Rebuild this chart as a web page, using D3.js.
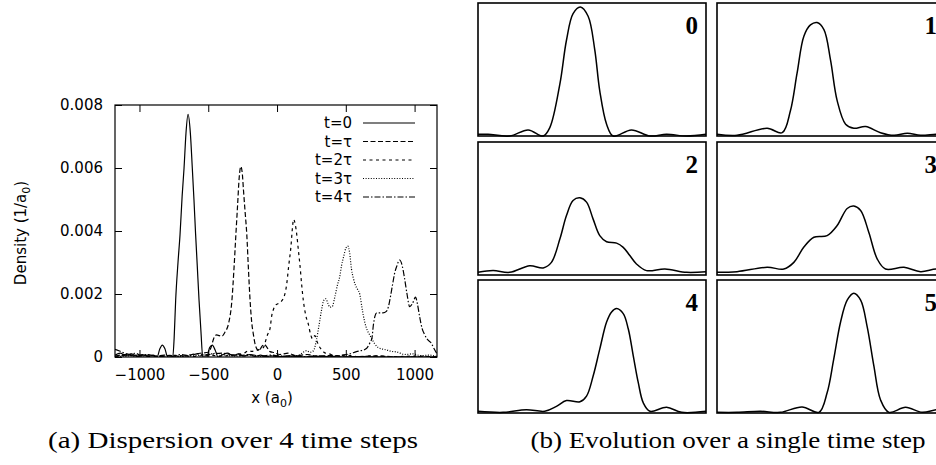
<!DOCTYPE html>
<html><head><meta charset="utf-8">
<title>Wave packet dispersion</title>
<script src="https://cdn.jsdelivr.net/npm/d3@7"></script>
<style>
body { margin: 0; background: #fff; }
.axis text { font-family: "DejaVu Sans", sans-serif; font-size: 15px; fill: #000; }
.axis line { stroke: #000; }
.lbl { font-family: "DejaVu Sans", sans-serif; font-size: 15px; fill: #000; }
.cap { font-family: "Liberation Serif", serif; font-size: 23px; fill: #000; }
.num { font-family: "Liberation Serif", serif; font-size: 25px; font-weight: bold; fill: #000; }
</style>
</head>
<body>
<script>

// left plot: density at t = 0 .. 4 tau, [x (a0), density]
var xTicks = [-1000, -500, 0, 500, 1000];
var yTicks = [0, 0.002, 0.004, 0.006, 0.008];
var legendLabels = ["t=0", "t=\u03c4", "t=2\u03c4", "t=3\u03c4", "t=4\u03c4"];

var t0 = [[-1178,0.00006],[-1140,0.00012],[-1100,0.00004],[-1060,0.0001],[-1020,0.00002],[-980,0.00008],
  [-940,0.00002],[-900,0.00006],[-872,0],[-852,0.00026],[-834,0.00038],[-815,0.00026],[-795,0],[-758,0],
  [-748,0.0006],[-737,0.0018],[-720,0.003],[-705,0.0039],[-690,0.0051],[-676,0.006],[-662,0.0071],[-647,0.0077],
  [-630,0.0071],[-616,0.006],[-604,0.005],[-592,0.0039],[-580,0.0029],[-567,0.0018],[-553,0.0008],[-540,0],
  [-510,0],[-490,0.0003],[-470,0.00038],[-450,0.00022],[-428,0],[-400,0.00006],[-360,0.00012],[-320,0.00004],
  [-280,0.0001],[-240,0.00003],[-200,0.00008],[-160,0.00002],[-120,0.00006],[-80,0.00001],[-40,0.00004],
  [0,0.00001],[100,0.00003],[200,0],[300,0.00002],[400,0],[600,0.00001],[800,0],[1163,0]];

var t1 = [[-1178,0.00003],[-1100,0.00008],[-1020,0.00002],[-940,0.00006],[-860,0.00001],[-780,0.00005],
  [-700,0.00002],[-620,0.00008],[-560,0.00012],[-500,0.00015],[-480,0.0003],[-461,0.00058],[-440,0.0007],
  [-420,0.00068],[-401,0.00066],[-377,0.0008],[-353,0.00105],[-328,0.0018],[-313,0.0028],[-299,0.0039],
  [-287,0.0048],[-275,0.0057],[-263,0.00605],[-252,0.0058],[-244,0.0053],[-232,0.0046],[-220,0.0039],
  [-208,0.0028],[-196,0.0018],[-184,0.0011],[-172,0.00072],[-160,0.00042],[-147,0.00026],[-130,0.0002],
  [-110,0.00034],[-92,0.0004],[-72,0.0003],[-51,0.00017],[-20,0.00014],[20,0.00008],[80,0.00012],
  [140,0.00004],[220,0.00008],[300,0.00002],[400,0.00005],[500,0],[700,0.00003],[900,0],[1163,0.00001]];

var t2 = [[-1178,0.00002],[-1050,0.00006],[-900,0.00002],[-750,0.00005],[-600,0.00002],[-500,0.00006],
  [-400,0.00003],[-300,0.00008],[-240,0.00012],[-208,0.0002],[-183,0.00018],[-160,0.0002],[-123,0.00025],
  [-99,0.0003],[-87,0.00045],[-70,0.0007],[-51,0.0009],[-39,0.0013],[-27,0.0015],[-10,0.00165],[10,0.0017],
  [34,0.00178],[50,0.0019],[70,0.0023],[85,0.0029],[101,0.0035],[112,0.0041],[120,0.00437],[133,0.0042],
  [143,0.0039],[155,0.0034],[167,0.0029],[179,0.0023],[191,0.0018],[210,0.0013],[227,0.00105],[245,0.0007],
  [258,0.00058],[275,0.00068],[290,0.0005],[312,0.0003],[330,0.0002],[348,0.00013],[380,0.0001],
  [420,0.00004],[500,0.00006],[600,0.00001],[700,0.00004],[850,0.00001],[1000,0.00003],[1163,0]];

var t3 = [[-1178,0.00001],[-1000,0.00004],[-800,0.00001],[-600,0.00004],[-500,0.00008],[-440,0.00012],
  [-380,0.00006],[-300,0.00003],[-200,0.00005],[-100,0.00001],[0,0.00004],[80,0.00002],[155,0.00005],
  [190,0.00015],[215,0.0002],[240,0.00015],[265,0.0002],[287,0.00055],[305,0.001],[324,0.0015],[340,0.0018],
  [355,0.00185],[370,0.0017],[384,0.00158],[401,0.0016],[420,0.0019],[440,0.0023],[456,0.00255],[469,0.0029],
  [485,0.0032],[500,0.00345],[515,0.00352],[528,0.0033],[541,0.0028],[555,0.0025],[568,0.0023],[585,0.00215],
  [601,0.002],[620,0.0015],[638,0.0011],[656,0.00085],[674,0.0007],[692,0.00055],[710,0.00042],[735,0.0003],
  [760,0.00026],[800,0.00022],[830,0.00018],[870,0.00016],[930,0.00008],[986,0.0001],[1050,0.00004],
  [1100,0.00006],[1163,0.00002]];

var t4 = [[-1178,0.00024],[-1150,0.0002],[-1110,0.00012],[-1070,0.00008],[-1030,0.00012],[-990,0.00005],
  [-940,0.00008],[-880,0.00003],[-820,0.00006],[-760,0.00002],[-700,0.00008],[-640,0.00004],[-580,0.0001],
  [-520,0.00006],[-460,0.0001],[-400,0.00012],[-340,0.00008],[-280,0.00004],[-200,0.00008],[-120,0.00003],
  [-40,0.00006],[40,0.00002],[120,0.00005],[200,0.00001],[300,0.00004],[400,0.00002],[480,0.00006],
  [530,0.0001],[577,0.00017],[610,0.0002],[638,0.00024],[656,0.0003],[674,0.00044],[690,0.0006],[700,0.001],
  [712,0.0013],[725,0.0014],[746,0.0014],[770,0.0014],[795,0.00145],[810,0.0016],[824,0.0019],[840,0.0023],
  [855,0.00266],[872,0.0029],[891,0.00308],[910,0.0029],[927,0.0025],[945,0.002],[964,0.0016],[985,0.0017],
  [1007,0.0019],[1020,0.0017],[1036,0.0013],[1055,0.0009],[1072,0.00072],[1095,0.00055],[1121,0.00044],
  [1140,0.00028],[1163,0.0001]];

// right panels: one time step, [position (0-100), relative density]
var stepLabels = ["0", "1", "2", "3", "4", "5"];
var s0 = [[0,0.013],[4.4,0.013],[13.9,0],[22,0.046],[28.6,0],[31.5,0.063],[35.9,0.39],[38.8,0.72],[41.7,0.92],
  [44.9,0.97],[48.3,0.9],[51.2,0.65],[53.4,0.34],[56.4,0.089],[59.3,0],[67.3,0.046],[75.4,0],[82.7,0.013],
  [91.5,0],[100,0.013]];
var s1 = [[0,0.013],[8.8,0.005],[22,0.058],[28.6,0.025],[32.2,0.19],[35.1,0.47],[38.1,0.75],[41,0.835],
  [43.9,0.853],[46.9,0.8],[49.8,0.57],[52.7,0.266],[56.4,0.089],[60,0.058],[65.2,0.071],[71.7,0.025],
  [77.6,0.005],[83.5,0.02],[89.3,0.005],[96.3,0.013],[100,0.01]];
var s2 = [[0,0.02],[6.6,0.033],[13.9,0.02],[22.7,0.07],[28.6,0.053],[32.2,0.095],[35.9,0.27],[38.8,0.447],
  [41.7,0.56],[44.7,0.58],[47.6,0.548],[50.5,0.42],[53.4,0.296],[56.4,0.25],[60.8,0.24],[63.7,0.208],
  [66.6,0.146],[69.5,0.083],[73.9,0.033],[82,0.045],[91.5,0.02],[100,0.025]];
var s3 = [[0,0.02],[8.8,0.025],[22,0.058],[29.3,0.045],[33.7,0.095],[38.1,0.21],[42.5,0.284],[48.3,0.296],
  [52.7,0.372],[57.1,0.5],[60,0.518],[63,0.485],[66.6,0.32],[70.3,0.12],[73.9,0.045],[82,0.058],
  [89.3,0.025],[96.3,0.045],[100,0.03]];
var s4 = [[0,0.013],[11,0.005],[21.2,0.025],[29.3,0.013],[34.4,0.05],[38.8,0.094],[44.7,0.084],[47.6,0.127],
  [50.5,0.278],[53.4,0.48],[56.4,0.684],[58.6,0.76],[60.8,0.785],[63.7,0.747],[65.9,0.633],[68.1,0.43],
  [70.3,0.228],[72.5,0.076],[75.4,0.013],[82.7,0.043],[89.3,0.005],[100,0.013]];
var s5 = [[0,0.005],[8.8,0.005],[19,0.013],[27.8,0.005],[37.3,0.046],[44.7,0.005],[48.3,0.152],[51.2,0.405],
  [54.2,0.684],[57.1,0.848],[60,0.9],[63,0.848],[65.9,0.646],[68.8,0.354],[71.7,0.1],[75.4,0.005],
  [82.7,0.043],[90,0.005],[96.3,0.025],[100,0.02]];

var width = 936, height = 465;
var svg = d3.select("body").append("svg").attr("width", width).attr("height", height)
  .style("background", "#fff");

// ---------- left plot ----------
var L = {left: 115, right: 437, top: 105, bottom: 357};
var x = d3.scaleLinear().domain([-1178, 1163]).range([L.left, L.right]);
var y = d3.scaleLinear().domain([0, 0.008]).range([L.bottom, L.top]);
var tick = 7;

svg.append("g").attr("class", "axis")
  .attr("transform", "translate(0," + L.bottom + ")")
  .call(d3.axisBottom(x).tickValues(xTicks).tickSize(-tick).tickPadding(12).tickFormat(d3.format("d")))
  .call(function(g) { g.select(".domain").remove(); });
svg.append("g").attr("class", "axis")
  .attr("transform", "translate(0," + L.top + ")")
  .call(d3.axisTop(x).tickValues(xTicks).tickSize(-tick).tickFormat(""))
  .call(function(g) { g.select(".domain").remove(); });
svg.append("g").attr("class", "axis")
  .attr("transform", "translate(" + L.left + ",0)")
  .call(d3.axisLeft(y).tickValues(yTicks).tickSize(-tick).tickPadding(12)
    .tickFormat(function(d) { return d === 0 ? "0" : d.toFixed(3); }))
  .call(function(g) { g.select(".domain").remove(); });
svg.append("g").attr("class", "axis")
  .attr("transform", "translate(" + L.right + ",0)")
  .call(d3.axisRight(y).tickValues(yTicks).tickSize(-tick).tickFormat(""))
  .call(function(g) { g.select(".domain").remove(); });

svg.append("rect")
  .attr("x", L.left).attr("y", L.top)
  .attr("width", L.right - L.left).attr("height", L.bottom - L.top)
  .attr("fill", "none").attr("stroke", "#000").attr("stroke-width", 1.2);

svg.append("clipPath").attr("id", "clipL").append("rect")
  .attr("x", L.left).attr("y", L.top - 5)
  .attr("width", L.right - L.left).attr("height", L.bottom - L.top + 5);

var dashes = [null, "5,2.5", "3,3.5", "1,1.6", "6,2,1.5,2"];
var series = [t0, t1, t2, t3, t4];

var line = d3.line()
  .x(function(d) { return x(d[0]); })
  .y(function(d) { return y(d[1]); })
  .curve(d3.curveMonotoneX);

svg.append("g").attr("clip-path", "url(#clipL)")
  .selectAll("path").data(series).enter().append("path")
  .attr("d", line)
  .attr("fill", "none")
  .attr("stroke", "#000")
  .attr("stroke-width", 1.2)
  .attr("stroke-dasharray", function(d, i) { return dashes[i]; });

// legend
var lg = svg.append("g").selectAll("g").data(legendLabels).enter().append("g")
  .attr("transform", function(d, i) { return "translate(0," + (123 + i * 18.5) + ")"; });
lg.append("text").attr("class", "lbl")
  .attr("x", 352).attr("dy", "0.35em").attr("text-anchor", "end")
  .text(function(d) { return d; });
lg.append("line")
  .attr("x1", 363).attr("x2", 415)
  .attr("stroke", "#000").attr("stroke-width", 1.1)
  .attr("stroke-dasharray", function(d, i) { return dashes[i]; });

// axis titles
var yt = svg.append("text").attr("class", "lbl")
  .attr("transform", "translate(26,233) rotate(-90)")
  .attr("text-anchor", "middle");
yt.append("tspan").text("Density (1/a");
yt.append("tspan").attr("dy", 4).style("font-size", "11px").text("0");
yt.append("tspan").attr("dy", -4).text(")");

var xt = svg.append("text").attr("class", "lbl")
  .attr("x", 272).attr("y", 403).attr("text-anchor", "middle");
xt.append("tspan").text("x (a");
xt.append("tspan").attr("dy", 4).style("font-size", "11px").text("0");
xt.append("tspan").attr("dy", -4).text(")");

// ---------- right panels ----------
var colX = [478, 717], rowY = [3, 142, 280];
var pw = 228, ph = 133;
var steps = [s0, s1, s2, s3, s4, s5];

steps.forEach(function(data, i) {
  var px = colX[i % 2], py = rowY[Math.floor(i / 2)];
  var sx = d3.scaleLinear().domain([0, 100]).range([px, px + pw]);
  var sy = d3.scaleLinear().domain([0, 1]).range([py + ph, py]);
  var g = svg.append("g");
  g.append("rect")
    .attr("x", px).attr("y", py).attr("width", pw).attr("height", ph)
    .attr("fill", "none").attr("stroke", "#000").attr("stroke-width", 1.6);
  g.append("path")
    .datum(data)
    .attr("d", d3.line()
      .x(function(d) { return sx(d[0]); })
      .y(function(d) { return sy(d[1]); })
      .curve(d3.curveCatmullRom.alpha(0.5)))
    .attr("fill", "none").attr("stroke", "#000").attr("stroke-width", 1.5);
  g.append("text").attr("class", "num")
    .attr("x", px + pw - 8).attr("y", py + 31).attr("text-anchor", "end")
    .text(stepLabels[i]);
});

// ---------- captions ----------
svg.append("text").attr("class", "cap")
  .attr("x", 233).attr("y", 448).attr("text-anchor", "middle")
  .attr("textLength", 370).attr("lengthAdjust", "spacingAndGlyphs")
  .text("(a) Dispersion over 4 time steps");
svg.append("text").attr("class", "cap")
  .attr("x", 728).attr("y", 448).attr("text-anchor", "middle")
  .attr("textLength", 395).attr("lengthAdjust", "spacingAndGlyphs")
  .text("(b) Evolution over a single time step");

</script>
</body></html>
